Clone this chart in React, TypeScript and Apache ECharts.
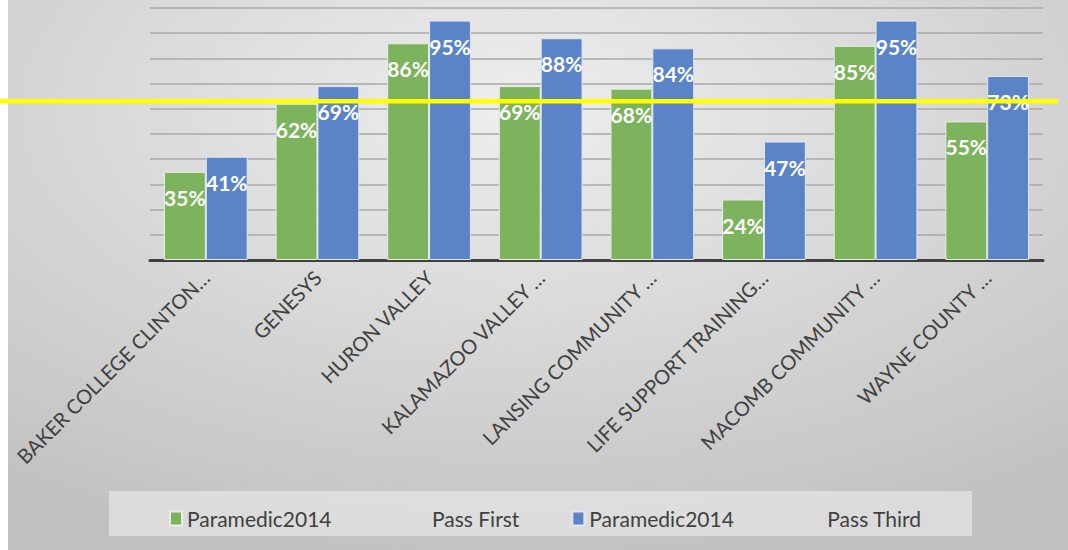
import React, { useEffect, useRef } from "react";
import * as echarts from "echarts";

const categories = [
  "BAKER COLLEGE CLINTON…",
  "GENESYS",
  "HURON VALLEY",
  "KALAMAZOO VALLEY …",
  "LANSING COMMUNITY …",
  "LIFE SUPPORT TRAINING…",
  "MACOMB COMMUNITY …",
  "WAYNE COUNTY …",
];
const passFirst = [0.35, 0.62, 0.86, 0.69, 0.68, 0.24, 0.85, 0.55];
const passThird = [0.41, 0.69, 0.95, 0.88, 0.84, 0.47, 0.95, 0.73];
const seriesNames = ["Paramedic2014 Pass First", "Paramedic2014 Pass Third"];
const targetLine = 0.63;

const FONT = "Lato";

export default function App() {
  const ref = useRef<HTMLDivElement>(null);
  useEffect(() => {
    if (!ref.current) return;
    const chart = echarts.init(ref.current, undefined, { renderer: "svg" });
    const barLabel = {
      show: true,
      position: "insideTop",
      distance: 15,
      color: "#ffffff",
      fontWeight: "bold",
      fontSize: 21,
      fontFamily: FONT,
      formatter: (p: any) => Math.round(p.value * 100) + "%",
    };
    chart.setOption({
      animation: false,
      backgroundColor: "#ffffff",
      grid: { left: 150, right: 25, top: 8, bottom: 290 },
      xAxis: {
        type: "category",
        data: categories,
        axisLine: { lineStyle: { color: "#404040", width: 3 } },
        axisTick: { show: false },
        axisLabel: {
          interval: 0,
          rotate: 45,
          margin: 14,
          color: "#404040",
          fontSize: 20,
          fontFamily: FONT,
        },
      },
      yAxis: {
        type: "value",
        min: 0,
        max: 1,
        interval: 0.1,
        axisLabel: { show: false },
        axisLine: { show: false },
        axisTick: { show: false },
        splitLine: { lineStyle: { color: "#a8a8a8", width: 1.5 } },
      },
      legend: {
        left: 164,
        top: 503,
        itemWidth: 12,
        itemHeight: 14,
        itemGap: 52,
        icon: "rect",
        data: seriesNames,
        formatter: (name: string) => {
          const i = name.indexOf(" ");
          const key = name === seriesNames[0] ? "a" : "c";
          return `{${key}|${name.slice(0, i)}}{b|${name.slice(i + 1)}}`;
        },
        textStyle: {
          color: "#404040",
          fontFamily: FONT,
          fontSize: 21,
          rich: {
            a: { width: 245, fontSize: 21, fontFamily: FONT, color: "#404040" },
            c: { width: 238, fontSize: 21, fontFamily: FONT, color: "#404040" },
            b: { fontSize: 21, fontFamily: FONT, color: "#404040" },
          },
        },
      },
      series: [
        {
          name: seriesNames[0],
          type: "bar",
          data: passFirst,
          barGap: "0%",
          barCategoryGap: "25%",
          itemStyle: { color: "#7db35c", borderColor: "#e6efe0", borderWidth: 1 },
          label: barLabel,
        },
        {
          name: seriesNames[1],
          type: "bar",
          data: passThird,
          barGap: "0%",
          barCategoryGap: "25%",
          itemStyle: { color: "#5b84c8", borderColor: "#e0e6f2", borderWidth: 1 },
          label: barLabel,
        },
      ],
    });
    const y = chart.convertToPixel({ yAxisIndex: 0 }, targetLine) as number;
    chart.setOption({
      graphic: [
        {
          type: "rect",
          z: -10,
          silent: true,
          shape: { x: 8, y: 0, width: 1060, height: 550 },
          style: {
            fill: new echarts.graphic.RadialGradient(0.48, 0.2, 0.85, [
              { offset: 0, color: "#eeeeee" },
              { offset: 1, color: "#c0c0c0" },
            ]),
          },
        },
        {
          type: "rect",
          z: -9,
          silent: true,
          shape: { x: 109, y: 491, width: 863, height: 45 },
          style: { fill: "rgba(240,240,240,0.55)" },
        },
        {
          type: "line",
          z: 100,
          silent: true,
          shape: { x1: 0, y1: y, x2: 1058, y2: y },
          style: { stroke: "#ffff00", lineWidth: 4.5 },
        },
      ],
    });
    return () => chart.dispose();
  }, []);
  return (
    <div
      ref={ref}
      style={{ position: "absolute", left: 0, top: 0, width: 1068, height: 550 }}
    />
  );
}
